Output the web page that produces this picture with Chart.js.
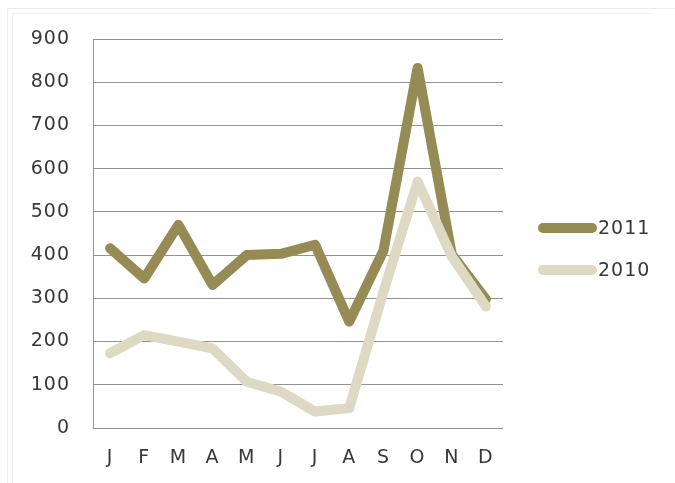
<!DOCTYPE html>
<html>
<head>
<meta charset="utf-8">
<script src="https://cdn.jsdelivr.net/npm/chart.js@4/dist/chart.umd.min.js"></script>
<style>
  html, body { margin: 0; padding: 0; background: #fff; }
  #wrap { position: relative; width: 675px; height: 483px; overflow: hidden; }
  .f1 { position: absolute; left: 7px; top: 8px; width: 700px; height: 500px; border-top: 1px solid #ededed; border-left: 1px solid #ededed; }
  .f2 { position: absolute; left: 12px; top: 13px; width: 638px; height: 500px; border-top: 1px solid #f2f2f2; border-left: 1px solid #f2f2f2; }
  canvas { position: absolute; left: 0; top: 0; }
</style>
</head>
<body>
<div id="wrap">
  <div class="f1"></div>
  <div class="f2"></div>
  <canvas id="c" width="675" height="483"></canvas>
</div>
<script>
const months = ['J','F','M','A','M','J','J','A','S','O','N','D'];
const series2011 = [416, 346, 470, 331, 400, 403, 424, 246, 410, 833, 402, 298];
const series2010 = [173, 215, 200, 184, 107, 84, 38, 46, 315, 570, 397, 281];
const seriesNames = ['2011', '2010'];
const seriesColors = ['#968b54', '#ddd9c3'];
const yTicks = [0, 100, 200, 300, 400, 500, 600, 700, 800, 900];

const FONT = 'DejaVu Sans';
const TEXT = '#383838';

const spacingPlugin = {
  id: 'spacing',
  beforeDraw(chart) { chart.ctx.letterSpacing = '1px'; }
};

const legendPlugin = {
  id: 'customLegend',
  afterDraw(chart) {
    const ctx = chart.ctx;
    const ys = [228, 270];
    ctx.save();
    chart.data.datasets.forEach((ds, i) => {
      const y = ys[i];
      ctx.strokeStyle = ds.borderColor;
      ctx.lineWidth = 10;
      ctx.lineCap = 'round';
      ctx.beginPath();
      ctx.moveTo(543, y);
      ctx.lineTo(592, y);
      ctx.stroke();
      ctx.fillStyle = TEXT;
      ctx.font = '19px "' + FONT + '"';
      ctx.textAlign = 'left';
      ctx.textBaseline = 'middle';
      ctx.fillText(ds.label, 598, y + 1);
    });
    ctx.restore();
  }
};

new Chart(document.getElementById('c'), {
  type: 'line',
  data: {
    labels: months,
    datasets: [
      { label: seriesNames[0], data: series2011, borderColor: seriesColors[0], backgroundColor: seriesColors[0],
        borderWidth: 10, pointRadius: 0, borderJoinStyle: 'round', borderCapStyle: 'round', tension: 0, order: 1 },
      { label: seriesNames[1], data: series2010, borderColor: seriesColors[1], backgroundColor: seriesColors[1],
        borderWidth: 10, pointRadius: 0, borderJoinStyle: 'round', borderCapStyle: 'round', tension: 0, order: 0 }
    ]
  },
  options: {
    responsive: false,
    animation: false,
    devicePixelRatio: 1,
    layout: { padding: { left: 0, top: 39, right: 172, bottom: 0 } },
    plugins: { legend: { display: false }, tooltip: { enabled: false } },
    scales: {
      x: {
        offset: true,
        grid: { display: false, drawTicks: false },
        border: { display: false },
        ticks: { color: TEXT, font: { family: FONT, size: 19 }, padding: 19, maxRotation: 0, autoSkip: false },
        afterFit(scale) { scale.height = 55; }
      },
      y: {
        min: 0, max: 900,
        afterBuildTicks(scale) { scale.ticks = yTicks.map(v => ({ value: v })); },
        grid: { color: '#939393', lineWidth: 1, drawTicks: false },
        border: { display: true, color: '#939393', width: 1 },
        ticks: { color: TEXT, font: { family: FONT, size: 19 }, padding: 23 },
        afterFit(scale) { scale.width = 93; }
      }
    }
  },
  plugins: [spacingPlugin, legendPlugin]
});
</script>
</body>
</html>
